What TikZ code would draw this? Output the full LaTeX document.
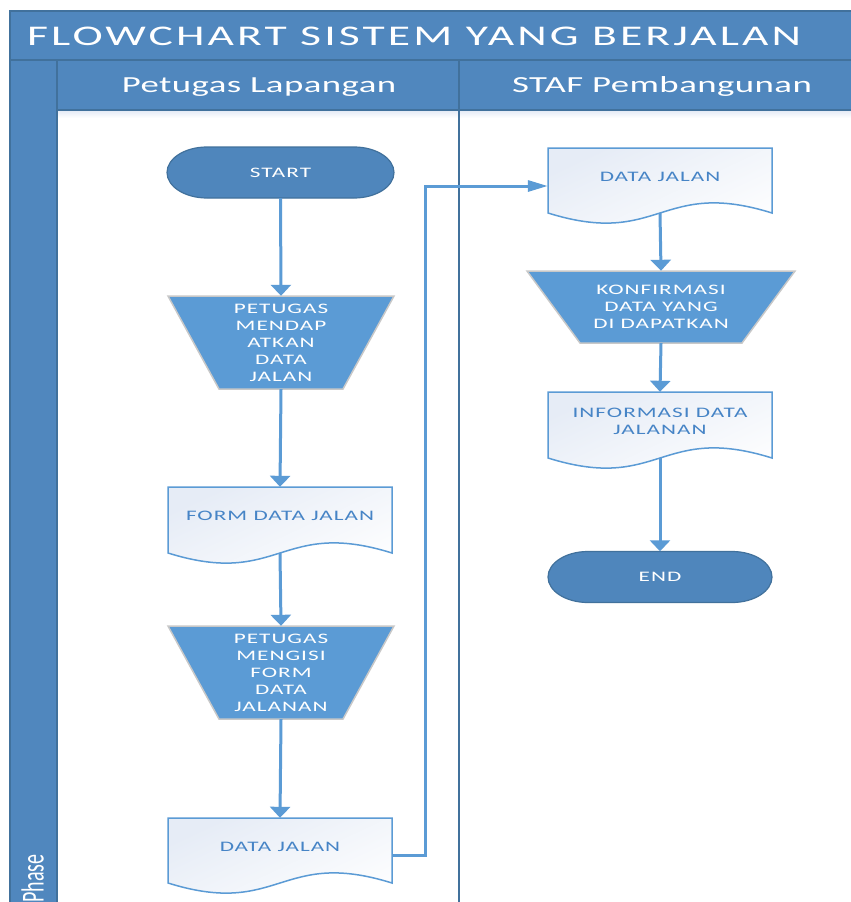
\documentclass[tikz,border=0pt]{standalone}
\usepackage{fontspec}
\setmainfont{Carlito}
\newfontfamily\headfont[FakeStretch=1.6,LetterSpace=2]{Carlito}
\newfontfamily\titlefont[FakeStretch=1.6,LetterSpace=11]{Carlito}
\newfontfamily\widesp[FakeStretch=1.6,LetterSpace=7]{Carlito}
\usetikzlibrary{arrows.meta,calc}

\definecolor{band}{RGB}{80,135,190}
\definecolor{edge}{RGB}{65,113,156}
\definecolor{term}{RGB}{79,134,188}
\definecolor{manual}{RGB}{91,155,213}
\definecolor{flow}{RGB}{91,155,213}
\definecolor{doctext}{RGB}{70,132,198}
\definecolor{docfill}{RGB}{230,236,246}
\definecolor{manualedge}{RGB}{200,200,200}

\tikzset{
  termshape/.style={fill=term, draw=edge, line width=1.2pt},
  termtext/.style={rectangle, inner sep=0pt, text=white,
    font=\widesp\fontsize{14.5}{17}\selectfont},
  manualshape/.style={fill=manual, draw=manualedge, line width=1.5pt},
  manualtext/.style={rectangle, inner sep=0pt, text=white, align=center,
    font=\widesp\fontsize{14.5}{17}\selectfont},
  docshape/.style={draw=flow, line width=1.5pt, shading=axis,
    top color=docfill, bottom color=white, shading angle=25},
  docbox/.style={rectangle, inner sep=0pt},
  doctext/.style={rectangle, inner sep=0pt, text=doctext, align=center,
    font=\widesp\fontsize{14.5}{17}\selectfont},
  flowline/.style={draw=flow, line width=3pt},
  vhead/.style={-{Triangle[width=20pt,length=11pt]}},
  hhead/.style={-{Triangle[width=11pt,length=20pt]}},
  laneline/.style={draw=edge, line width=1.2pt},
}

% terminator: name, cx, cy, half width, text
\newcommand\flowTerm[5]{%
  \draw[termshape] (#2-#4+40,#3-25.5) -- (#2+#4-40,#3-25.5)
    arc[start angle=-90,end angle=90,x radius=40,y radius=25.5]
    -- (#2-#4+40,#3+25.5)
    arc[start angle=90,end angle=270,x radius=40,y radius=25.5] -- cycle;
  \node[termtext, minimum width={2*#4}, minimum height=51] (#1) at (#2,#3) {#5};}

% manual operation: name, cx, cy, half height, top half width, bottom half width, text
\newcommand\flowManual[7]{%
  \draw[manualshape] (#2-#5,#3-#4) -- (#2+#5,#3-#4) -- (#2+#6,#3+#4)
    -- (#2-#6,#3+#4) -- cycle;
  \node[manualtext, minimum width={2*#5}, minimum height={2*#4}] (#1) at (#2,#3) {#7};}

% document: name, cx, top, half width, side height, text
\newcommand\flowDoc[6]{%
  \draw[docshape] (#2-#4,#3) -- (#2+#4,#3) -- (#2+#4,#3+#5)
    .. controls (#2,#3+#5-35) and (#2,#3+#5+35) .. (#2-#4,#3+#5) -- cycle;
  \node[docbox, minimum width={2*#4}, minimum height=#5] (#1) at (#2,#3+#5/2) {};
  \node[doctext] (#1-t) at (#2,#3+#5/2-4) {#6};}

\begin{document}
\begin{tikzpicture}[x=1pt,y=-1pt]
\useasboundingbox (0,0) rectangle (851,902);

% pool: title band, lane headers, phase column, lane bodies
\fill[band] (10,11) rectangle (861,110);
\fill[band] (10,110) rectangle (57,910);
\fill[white] (57,110) rectangle (861,910);
\shade[top color=docfill, bottom color=white] (57,111) rectangle (861,118);
\draw[laneline] (10,11) rectangle (861,910);
\draw[laneline] (10,60) -- (861,60);
\draw[laneline] (57,60) -- (57,910);
\draw[laneline] (57,110) -- (861,110);
\draw[edge, line width=2.5pt] (459,60) -- (459,910);

\node[anchor=base west, inner sep=0pt, text=white,
  font=\titlefont\fontsize{28.5}{30}\selectfont] (title) at (27,45)
  {FLOWCHART SISTEM YANG BERJALAN};
\node[anchor=base, inner sep=0pt, text=white,
  font=\headfont\fontsize{23}{25}\selectfont] (lane1) at (259,92) {Petugas Lapangan};
\node[anchor=base, inner sep=0pt, text=white,
  font=\headfont\fontsize{23}{25}\selectfont] (lane2) at (662,92) {STAF Pembangunan};
\node[anchor=south east, inner sep=0pt, text=white,
  font=\fontsize{20}{22}\selectfont] (phase) at (44,903)
  {\scalebox{1.6}[1]{\rotatebox{90}{Phase}}};

% lane: Petugas Lapangan
\flowTerm{start}{280.5}{172.5}{113.5}{START}
\flowManual{ambil}{281}{342.5}{46.5}{113}{62}{PETUGAS\\MENDAP\\ATKAN\\DATA\\JALAN}
\flowDoc{form}{280}{487}{112}{66}{FORM DATA JALAN}
\flowManual{isi}{281}{672.5}{46.5}{113}{62}{PETUGAS\\MENGISI\\FORM\\DATA\\JALANAN}
\flowDoc{data}{280}{818}{112}{65}{DATA JALAN}

% lane: STAF Pembangunan
\flowDoc{terima}{660}{148}{112}{65}{DATA JALAN}
\flowManual{konf}{661}{307}{36}{134}{81}{KONFIRMASI\\DATA YANG\\DI DAPATKAN}
\flowDoc{info}{660}{392}{112}{66}{INFORMASI DATA\\JALANAN}
\flowTerm{end}{660}{577}{112}{END}

% connectors
\draw[flowline, vhead] (start.south) -- (ambil.north);
\draw[flowline, vhead] (ambil.south) -- (form.north);
\draw[flowline, vhead] (form.south) -- (isi.north);
\draw[flowline, vhead] (isi.south) -- (data.north);
\coordinate (bend) at (425,186);
\draw[flowline, hhead] ($(data.east)+(0,5)$) -| (bend) -- ($(terima.west)+(0,5.5)$);
\draw[flowline, vhead] (terima.south) -- (konf.north);
\draw[flowline, vhead] (konf.south) -- (info.north);
\draw[flowline, vhead] (info.south) -- (end.north);
\end{tikzpicture}
\end{document}
